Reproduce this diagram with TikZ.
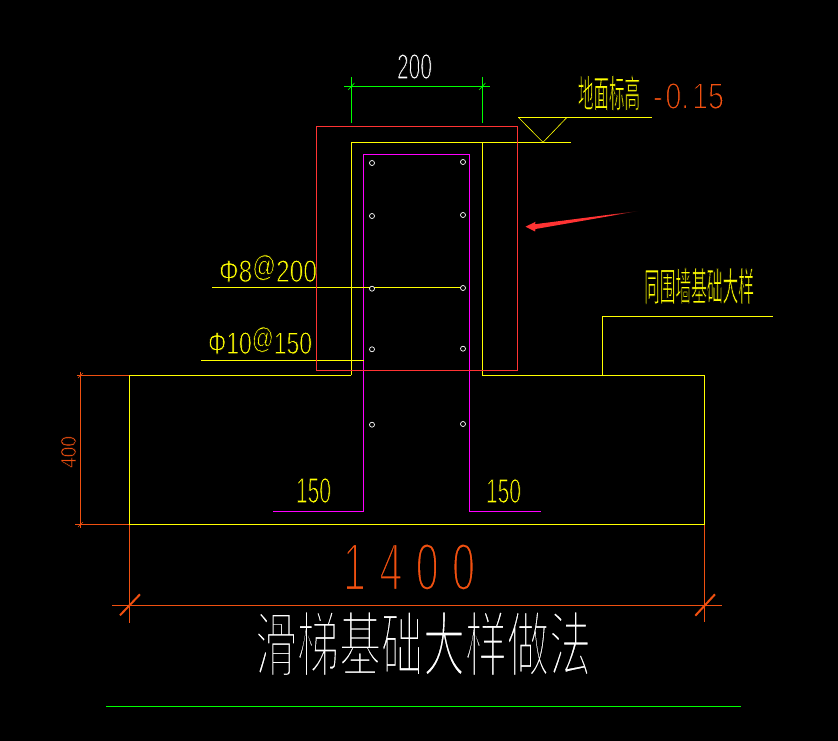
\documentclass[tikz,border=0pt]{standalone}
\usepackage{graphicx}
\usepackage{fontspec}
\setmainfont{Liberation Sans}
\newfontfamily\cjk{Noto Sans CJK SC}
\definecolor{cadred}{HTML}{FF3333}
\definecolor{cadorange}{HTML}{F05010}
\definecolor{cadyellow}{HTML}{FFFF00}
\definecolor{cadgreen}{HTML}{00FF00}
\definecolor{cadmag}{HTML}{FF00FF}
\pgfdeclarehorizontalshading{arrowfade}{100bp}{color(0bp)=(cadred); color(62bp)=(cadred); color(75bp)=(black); color(100bp)=(black)}
% #1 width, #2 height, #3 black stroke that thins the glyphs, #4 text
\newcommand{\fitbox}[4]{\resizebox{#1pt}{#2pt}{\special{pdf:code 2 Tr 0 0 0 RG #3 w}#4\special{pdf:code 0 Tr}}}
\newcommand{\atsign}{\raisebox{.18em}{\fontsize{9.5}{9.5}\selectfont @}}
\tikzset{
  cadline/.style={line width=1pt},
  thinline/.style={line width=0.6pt},
  label/.style={inner sep=0pt,outer sep=0pt,anchor=center},
  rebar/.style={draw=white,line width=0.7pt,fill=black},
}
\begin{document}
\begin{tikzpicture}[x=1pt,y=-1pt]
\fill[black] (0,0) rectangle (838,741);
\useasboundingbox (0,0) rectangle (838,741);
% orange dimensions
\draw[cadline,cadorange] (80.3,371.7) -- (80.3,528);
\draw[cadline,cadorange] (76.5,375.3) -- (129.3,375.3);
\draw[cadline,cadorange] (75,524.3) -- (129.3,524.3);
\draw[thinline,cadorange] (78,378) -- (83,373);
\draw[thinline,cadorange] (78,527) -- (83,522);
\draw[cadline,cadorange] (112,605.3) -- (721.7,605.3);
\draw[cadline,cadorange] (129.3,524.3) -- (129.3,622.7);
\draw[cadline,cadorange] (704.3,524.3) -- (704.3,622.3);
\draw[line width=2pt,cadorange] (120,615.3) -- (140,594.3);
\draw[line width=2pt,cadorange] (695.3,615.7) -- (715,594.3);
% green dimension
\draw[cadline,cadgreen] (344,86.3) -- (490,86.3);
\draw[cadline,cadgreen] (351.3,77) -- (351.3,123);
\draw[cadline,cadgreen] (482.3,77) -- (482.3,123);
\draw[thinline,cadgreen] (348,90) -- (354.5,83);
\draw[thinline,cadgreen] (479,90) -- (485.5,83);
% magenta stirrup
\draw[cadline,cadmag,line join=miter] (273,511.3) -- (363.7,511.3) -- (363.7,154.3) -- (469.3,154.3) -- (469.3,511.3) -- (540.7,511.3);
% yellow wall and footing
\draw[cadline,cadyellow] (351.3,375.3) -- (351.3,142.3) -- (570.7,142.3);
\draw[cadline,cadyellow] (482.3,142.3) -- (482.3,375.3);
\draw[cadline,cadyellow] (351.3,375.3) -- (129.3,375.3) -- (129.3,524.3) -- (704.3,524.3) -- (704.3,375.3) -- (482.3,375.3);
\draw[cadline,cadyellow] (602.3,375.3) -- (602.3,316.3) -- (772.7,316.3);
\draw[cadline,cadyellow] (518.3,117.3) -- (651.7,117.3);
\draw[thinline,cadyellow] (518.3,117.3) -- (543,142.3) -- (567,117.3);
\draw[cadline,cadyellow] (212,287.3) -- (461.7,287.3);
\draw[cadline,cadyellow] (201,360.3) -- (363.7,360.3);
% red outline
\draw[cadline,cadred] (316.5,126.7) rectangle (517.3,370.3);
% rebars
\foreach \px/\py in {372/163,463/162,372/216,463/215,372/288.7,463/288,372/349.3,463/348.7,372/424.7,463/424}
  \draw[rebar] (\px,\py) circle (2.5);
\draw[cadline,cadgreen] (106,706.7) -- (741,706.7);
% red arrow
\shade[shading=arrowfade]
  (525.5,226.7) -- (535.5,221.8) -- (535,224.2) -- (640,210.8) -- (535.5,229) -- (535,231.5) -- cycle;
% texts
\node[label,text=white] (dimtop) at (414.5,66.5) {\fitbox{35}{25}{0.28}{200}};
\node[label,text=cadyellow] (level) at (609,93) {\fitbox{62}{32}{0.2}{\cjk 地面标高}};
\node[label,text=cadorange] (levelv) at (688.5,96) {\fitbox{71}{26}{0.32}{-\kern.1em 0.\kern.1em 15}};
\node[label,text=cadyellow] (bar1) at (268,268.5) {\fitbox{98}{27}{0.25}{Φ8\atsign 200}};
\node[label,text=cadyellow] (bar2) at (260,340.5) {\fitbox{104}{27}{0.25}{Φ10\atsign 150}};
\node[label,text=cadyellow] (wall) at (699,286) {\fitbox{110}{33}{0.2}{\cjk 同围墙基础大样}};
\node[label,text=cadyellow] (hookl) at (313.5,490.5) {\fitbox{35}{25}{0.28}{150}};
\node[label,text=cadyellow] (hookr) at (503.5,491) {\fitbox{35}{24}{0.28}{150}};
\node[label,text=cadorange,rotate=90] (dimh) at (68.5,452) {\fitbox{32}{15}{0.25}{400}};
\node[label,text=cadorange] (dimw) at (409,567) {\fitbox{132}{47}{0.38}{\makebox[3.2em]{1\hfill 4\hfill 0\hfill 0}}};
\node[label,text=white] (title) at (423,643.5) {\fitbox{336}{60}{0.4}{\cjk 滑梯基础大样做法}};
\end{tikzpicture}
\end{document}
